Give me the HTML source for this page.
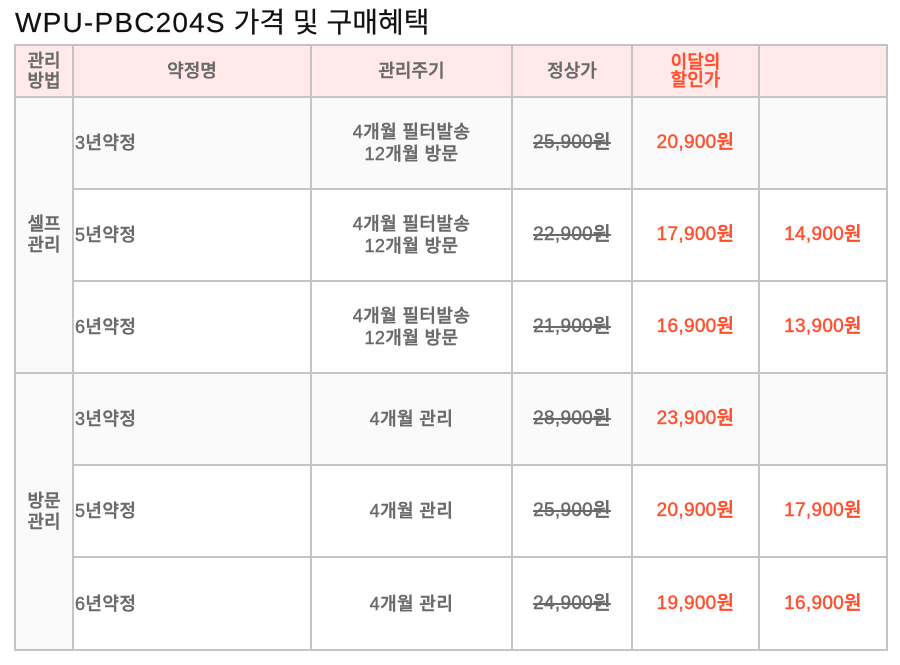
<!DOCTYPE html>
<html>
<head>
<meta charset="utf-8">
<style>
  html,body{margin:0;padding:0;background:#fff;}
  body{width:900px;height:665px;position:relative;overflow:hidden;
       font-family:"Liberation Sans","Noto Sans CJK KR",sans-serif;}
  .title{position:absolute;left:15px;top:3px;font-size:28px;line-height:40px;color:#111;white-space:nowrap;-webkit-text-stroke:0.2px #111;}
  .title .lat{letter-spacing:1.2px;}
  .bg{position:absolute;}
  .h{position:absolute;height:2px;background:#c4c4c4;}
  .v{position:absolute;width:2px;background:#c4c4c4;top:44px;height:607px;}
  .c{position:absolute;display:flex;align-items:center;justify-content:center;text-align:center;
     color:#6a6a6a;font-size:18px;font-weight:500;line-height:22px;white-space:nowrap;
     -webkit-text-stroke:0.45px #6a6a6a;letter-spacing:0.4px;}
  .l{justify-content:flex-start;text-align:left;padding-left:2px;box-sizing:border-box;}
  .hd{font-size:18px;line-height:20px;letter-spacing:0;}
  .red{color:#ff5030;-webkit-text-stroke:0.45px #ff5030;}
  .n{font-size:19px;letter-spacing:0.3px;}
  .s{text-decoration:line-through;text-decoration-thickness:1.5px;}
</style>
</head>
<body>
<div class="title"><span class="lat">WPU-PBC204S</span> 가격 및 구매혜택</div>

<!-- backgrounds -->
<div class="bg" style="left:15px;top:45px;width:872px;height:52px;background:#ffe9e9;"></div>
<div class="bg" style="left:15px;top:97px;width:58px;height:553px;background:#fafafa;"></div>
<div class="bg" style="left:73px;top:97px;width:814px;height:92px;background:#fafafa;"></div>
<div class="bg" style="left:73px;top:373px;width:814px;height:92px;background:#fafafa;"></div>

<!-- horizontal lines -->
<div class="h" style="left:14px;top:44px;width:874px;"></div>
<div class="h" style="left:14px;top:96px;width:874px;"></div>
<div class="h" style="left:73px;top:188px;width:815px;"></div>
<div class="h" style="left:73px;top:280px;width:815px;"></div>
<div class="h" style="left:14px;top:372px;width:874px;"></div>
<div class="h" style="left:73px;top:464px;width:815px;"></div>
<div class="h" style="left:73px;top:556px;width:815px;"></div>
<div class="h" style="left:14px;top:649px;width:874px;"></div>

<!-- vertical lines -->
<div class="v" style="left:14px;"></div>
<div class="v" style="left:72px;"></div>
<div class="v" style="left:310px;"></div>
<div class="v" style="left:511px;"></div>
<div class="v" style="left:631px;"></div>
<div class="v" style="left:758px;"></div>
<div class="v" style="left:886px;"></div>

<!-- header -->
<div class="c hd" style="left:15px;top:45px;width:58px;height:52px;">관리<br>방법</div>
<div class="c hd" style="left:73px;top:45px;width:238px;height:52px;">약정명</div>
<div class="c hd" style="left:311px;top:45px;width:201px;height:52px;">관리주기</div>
<div class="c hd" style="left:512px;top:45px;width:120px;height:52px;">정상가</div>
<div class="c hd red" style="left:632px;top:45px;width:127px;height:52px;line-height:18px;">이달의<br>할인가</div>

<!-- group labels -->
<div class="c hd" style="left:15px;top:97px;width:58px;height:276px;line-height:21px;">셀프<br>관리</div>
<div class="c hd" style="left:15px;top:373px;width:58px;height:277px;line-height:21px;">방문<br>관리</div>

<!-- row 1 -->
<div class="c l" style="left:73px;top:97px;width:238px;height:92px;">3년약정</div>
<div class="c" style="left:311px;top:97px;width:201px;height:92px;">4개월 필터발송<br>12개월 방문</div>
<div class="c s n" style="left:512px;top:97px;width:120px;height:92px;">25,900원</div>
<div class="c red n" style="left:632px;top:97px;width:127px;height:92px;">20,900원</div>

<!-- row 2 -->
<div class="c l" style="left:73px;top:189px;width:238px;height:92px;">5년약정</div>
<div class="c" style="left:311px;top:189px;width:201px;height:92px;">4개월 필터발송<br>12개월 방문</div>
<div class="c s n" style="left:512px;top:189px;width:120px;height:92px;">22,900원</div>
<div class="c red n" style="left:632px;top:189px;width:127px;height:92px;">17,900원</div>
<div class="c red n" style="left:759px;top:189px;width:128px;height:92px;">14,900원</div>

<!-- row 3 -->
<div class="c l" style="left:73px;top:281px;width:238px;height:92px;">6년약정</div>
<div class="c" style="left:311px;top:281px;width:201px;height:92px;">4개월 필터발송<br>12개월 방문</div>
<div class="c s n" style="left:512px;top:281px;width:120px;height:92px;">21,900원</div>
<div class="c red n" style="left:632px;top:281px;width:127px;height:92px;">16,900원</div>
<div class="c red n" style="left:759px;top:281px;width:128px;height:92px;">13,900원</div>

<!-- row 4 -->
<div class="c l" style="left:73px;top:373px;width:238px;height:92px;">3년약정</div>
<div class="c" style="left:311px;top:373px;width:201px;height:92px;">4개월 관리</div>
<div class="c s n" style="left:512px;top:373px;width:120px;height:92px;">28,900원</div>
<div class="c red n" style="left:632px;top:373px;width:127px;height:92px;">23,900원</div>

<!-- row 5 -->
<div class="c l" style="left:73px;top:465px;width:238px;height:92px;">5년약정</div>
<div class="c" style="left:311px;top:465px;width:201px;height:92px;">4개월 관리</div>
<div class="c s n" style="left:512px;top:465px;width:120px;height:92px;">25,900원</div>
<div class="c red n" style="left:632px;top:465px;width:127px;height:92px;">20,900원</div>
<div class="c red n" style="left:759px;top:465px;width:128px;height:92px;">17,900원</div>

<!-- row 6 -->
<div class="c l" style="left:73px;top:557px;width:238px;height:93px;">6년약정</div>
<div class="c" style="left:311px;top:557px;width:201px;height:93px;">4개월 관리</div>
<div class="c s n" style="left:512px;top:557px;width:120px;height:93px;">24,900원</div>
<div class="c red n" style="left:632px;top:557px;width:127px;height:93px;">19,900원</div>
<div class="c red n" style="left:759px;top:557px;width:128px;height:93px;">16,900원</div>
</body>
</html>
